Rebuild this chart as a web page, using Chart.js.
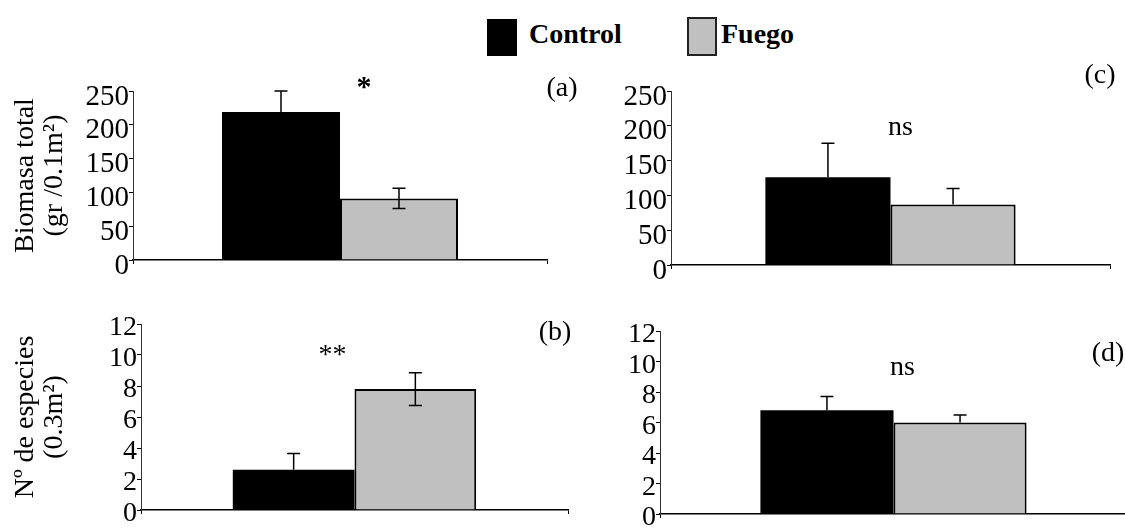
<!DOCTYPE html>
<html>
<head>
<meta charset="utf-8">
<script src="https://cdn.jsdelivr.net/npm/chart.js@4.4.0/dist/chart.umd.min.js"></script>
<style>
  body { margin: 0; width: 1125px; height: 529px; overflow: hidden; background: #fff; position: relative; font-family: "Liberation Serif", serif; }
  canvas { position: absolute; }
  .key { position: absolute; box-sizing: border-box; }
  .keyText { position: absolute; font-weight: bold; font-size: 28px; line-height: 1; }
</style>
</head>
<body>
<script>
const seriesNames = ['Control', 'Fuego'];
const seriesColors = ['#000000', '#c0c0c0'];
const categories = [''];

// Biomasa total, paneles (a) y (c)
const biomasaControl = [219, 126];
const biomasaFuego = [91, 87];
const biomasaControlErr = [31, 49];
const biomasaFuegoErr = [15, 23];
const biomasaTicks = [0, 50, 100, 150, 200, 250];

// Nº de especies, paneles (b) y (d)
const especiesControl = [2.6, 6.8];
const especiesFuego = [7.8, 6.0];
const especiesControlErr = [1.05, 0.9];
const especiesFuegoErr = [1.05, 0.5];
const especiesTicks = [0, 2, 4, 6, 8, 10, 12];

const panelTags = ['(a)', '(b)', '(c)', '(d)'];
const signif = ['*', '**', 'ns', 'ns'];

const serif = '"Liberation Serif", serif';
Chart.defaults.font.family = serif;
Chart.defaults.color = '#000';

// leyenda arriba al centro
const keyPos = [{ box: 487, text: 529, top: 19, h: 37 }, { box: 687, text: 721, top: 17, h: 39 }];
seriesNames.forEach((name, i) => {
  const k = document.createElement('div');
  k.className = 'key';
  k.style.cssText = `left:${keyPos[i].box}px;top:${keyPos[i].top}px;width:30px;height:${keyPos[i].h}px;background:${seriesColors[i]};` +
    (i === 1 ? 'border:2px solid #222;' : '');
  document.body.appendChild(k);
  const t = document.createElement('div');
  t.className = 'keyText';
  t.style.cssText = `left:${keyPos[i].text}px;top:20px;`;
  t.textContent = name;
  document.body.appendChild(t);
});

// barras de error: tapa arriba, y abajo solo si twoSided
const errorBars = {
  id: 'errorBars',
  afterDatasetsDraw(chart) {
    const ctx = chart.ctx;
    const y = chart.scales.y;
    chart.data.datasets.forEach((ds, i) => {
      chart.getDatasetMeta(i).data.forEach((bar, j) => {
        const v = ds.data[j], e = ds.err[j];
        const top = y.getPixelForValue(v + e);
        const bot = ds.twoSided ? y.getPixelForValue(v - e) : bar.y;
        ctx.save();
        ctx.strokeStyle = '#000';
        ctx.lineWidth = 1.5;
        ctx.beginPath();
        ctx.moveTo(bar.x, top); ctx.lineTo(bar.x, bot);
        ctx.moveTo(bar.x - 6.5, top); ctx.lineTo(bar.x + 6.5, top);
        if (ds.twoSided) { ctx.moveTo(bar.x - 6.5, bot); ctx.lineTo(bar.x + 6.5, bot); }
        ctx.stroke();
        ctx.restore();
      });
    });
  }
};

// texto de significancia y etiqueta del panel
const panelText = {
  id: 'panelText',
  afterDraw(chart, args, o) {
    const ctx = chart.ctx, area = chart.chartArea;
    const cx = chart.scales.x.getPixelForValue(0);
    ctx.save();
    ctx.fillStyle = '#000';
    ctx.textAlign = 'center';
    ctx.textBaseline = 'middle';
    ctx.font = o.sigFont;
    ctx.fillText(o.sig, cx + o.sigDx, o.sigY);
    ctx.font = '28px ' + serif;
    ctx.fillText(o.tag, area.right + o.tagDx, o.tagY);
    ctx.restore();
  }
};

function makePanel(p) {
  const c = document.createElement('canvas');
  c.width = p.w; c.height = p.h;
  c.style.left = p.left + 'px';
  c.style.top = p.top + 'px';
  document.body.appendChild(c);

  new Chart(c, {
    type: 'bar',
    data: {
      labels: categories,
      datasets: [
        { label: seriesNames[0], data: [p.control], err: [p.controlErr], twoSided: false,
          backgroundColor: seriesColors[0], borderWidth: 0 },
        { label: seriesNames[1], data: [p.fuego], err: [p.fuegoErr], twoSided: p.twoSided,
          backgroundColor: seriesColors[1], borderColor: '#000', borderWidth: 2, borderSkipped: 'bottom' }
      ]
    },
    options: {
      responsive: false,
      animation: false,
      events: [],
      categoryPercentage: 0.57,
      barPercentage: 1.0,
      layout: { padding: { top: p.padTop, right: p.padRight, left: 0, bottom: 0 } },
      plugins: {
        legend: { display: false },
        tooltip: { enabled: false },
        panelText: { sig: p.sig, sigFont: p.sigFont, sigDx: p.sigDx, sigY: p.sigY, tag: p.tag, tagDx: p.tagDx, tagY: p.tagY }
      },
      scales: {
        x: {
          ticks: { display: false },
          grid: { drawOnChartArea: false, tickLength: 4, color: '#000', offset: true },
          border: { color: '#000', width: 1.5 },
          afterFit(s) { s.height = p.xH; }
        },
        y: {
          min: p.ticks[0],
          max: p.ticks[p.ticks.length - 1],
          afterBuildTicks(s) { s.ticks = p.ticks.map(v => ({ value: v })); },
          ticks: { autoSkip: false, padding: 0, labelOffset: p.labelOffset, color: '#000',
                   font: { family: serif, size: p.tickSize, lineHeight: 1 } },
          grid: { drawOnChartArea: false, tickLength: 4, color: '#000' },
          border: { color: '#333', width: 1 },
          title: p.title ? { display: true, text: p.title, color: '#000',
                             font: { family: serif, size: 28, lineHeight: 1.05 },
                             padding: { top: 11, bottom: 0 } } : { display: false },
          afterFit(s) { s.width = p.axisW; }
        }
      }
    },
    plugins: [errorBars, panelText]
  });
}

// (a) biomasa
makePanel({ left: 0, top: 60, w: 590, h: 215, padTop: 31, padRight: 43, axisW: 133, xH: 15,
  control: biomasaControl[0], fuego: biomasaFuego[0], controlErr: biomasaControlErr[0], fuegoErr: biomasaFuegoErr[0],
  twoSided: true, ticks: biomasaTicks, tickSize: 29, labelOffset: 6, title: ['Biomasa total', '(gr /0.1m²)'],
  sig: signif[0], sigFont: 'bold 30px ' + serif, sigDx: 24, sigY: 28, tag: panelTags[0], tagDx: 15, tagY: 29 });

// (c) biomasa
makePanel({ left: 560, top: 60, w: 565, h: 220, padTop: 31, padRight: 15, axisW: 111, xH: 15,
  control: biomasaControl[1], fuego: biomasaFuego[1], controlErr: biomasaControlErr[1], fuegoErr: biomasaFuegoErr[1],
  twoSided: false, ticks: biomasaTicks, tickSize: 29, labelOffset: 6, title: null,
  sig: signif[2], sigFont: '28px ' + serif, sigDx: 10, sigY: 68, tag: panelTags[2], tagDx: -10, tagY: 16 });

// (b) especies
makePanel({ left: 0, top: 300, w: 580, h: 229, padTop: 24, padRight: 12, axisW: 141, xH: 19,
  control: especiesControl[0], fuego: especiesFuego[0], controlErr: especiesControlErr[0], fuegoErr: especiesFuegoErr[0],
  twoSided: true, ticks: especiesTicks, tickSize: 28, labelOffset: 4, title: ['Nº de especies', '(0.3m²)'],
  sig: signif[1], sigFont: '28px ' + serif, sigDx: -22, sigY: 56, tag: panelTags[1], tagDx: -13, tagY: 33 });

// (d) especies
makePanel({ left: 580, top: 300, w: 550, h: 229, padTop: 31, padRight: 3, axisW: 80, xH: 15,
  control: especiesControl[1], fuego: especiesFuego[1], controlErr: especiesControlErr[1], fuegoErr: especiesFuegoErr[1],
  twoSided: false, ticks: especiesTicks, tickSize: 28, labelOffset: 4, title: null,
  sig: signif[3], sigFont: '28px ' + serif, sigDx: 9, sigY: 68, tag: panelTags[3], tagDx: -19, tagY: 54 });
</script>
</body>
</html>
